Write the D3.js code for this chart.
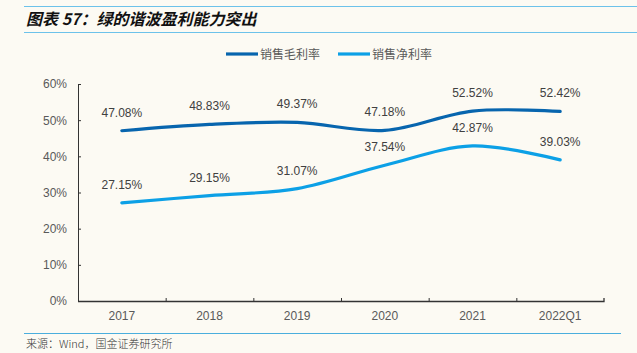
<!DOCTYPE html>
<html>
<head>
<meta charset="utf-8">
<script src="https://cdn.jsdelivr.net/npm/d3@7"></script>
<style>
  html, body { margin: 0; padding: 0; background: #fcfaf3; }
  svg { display: block; font-family: "Liberation Sans", Arial, "Noto Sans CJK SC", sans-serif; }
</style>
</head>
<body>
<svg id="chart" width="637" height="353"></svg>
<script>
var categories = ["2017", "2018", "2019", "2020", "2021", "2022Q1"];
var grossMargin = [47.08, 48.83, 49.37, 47.18, 52.52, 52.42];
var netMargin = [27.15, 29.15, 31.07, 37.54, 42.87, 39.03];
var yTicks = [0, 10, 20, 30, 40, 50, 60];
var seriesNames = ["销售毛利率", "销售净利率"];
var seriesColors = ["#0765ae", "#0ca0e6"];

var svg = d3.select("#chart");

// title with rules
svg.append("line").attr("x1", 24).attr("x2", 637).attr("y1", 6.5).attr("y2", 6.5)
    .attr("stroke", "#6cc2ea").attr("stroke-width", 1.2);
svg.append("line").attr("x1", 24).attr("x2", 637).attr("y1", 32.5).attr("y2", 32.5)
    .attr("stroke", "#6cc2ea").attr("stroke-width", 1.2);
svg.append("text").attr("x", 26).attr("y", 25)
    .attr("font-family", "'Noto Sans CJK SC', sans-serif")
    .attr("font-size", 16).attr("font-weight", "bold").attr("font-style", "italic")
    .attr("fill", "#111")
    .text("图表 57：绿的谐波盈利能力突出");

var margin = {top: 84, left: 78, right: 33, bottom: 52};
var width = 637 - margin.left - margin.right,
    height = 353 - margin.top - margin.bottom;

var x = d3.scaleBand().domain(categories).range([0, width]);
var y = d3.scaleLinear().domain([0, 60]).range([height, 0]);

var g = svg.append("g").attr("transform", "translate(" + margin.left + "," + margin.top + ")");

// y axis
var yAxis = g.append("g").call(d3.axisLeft(y).tickValues(yTicks).tickSize(-3).tickPadding(11)
    .tickFormat(function(d) { return d + "%"; }));
yAxis.attr("font-family", null);
yAxis.select(".domain").attr("stroke", "#333").attr("d", "M0.5,0V" + (height + 0.5));
yAxis.selectAll(".tick line").attr("stroke", "#333");
yAxis.selectAll(".tick text").attr("fill", "#595959").attr("font-size", 12);

// x axis
var xAxis = g.append("g").attr("transform", "translate(0," + height + ")")
    .call(d3.axisBottom(x).tickSize(0).tickPadding(10));
xAxis.attr("font-family", null);
xAxis.select(".domain").attr("stroke", "#333").attr("stroke-width", 1.3).attr("d", "M0,0.5H" + width + "V-3");
xAxis.selectAll(".tick text").attr("fill", "#595959").attr("font-size", 12);
// boundary ticks between categories
g.append("g").selectAll("line").data(categories.slice(1)).enter().append("line")
    .attr("x1", function(d) { return x(d) + 0.5; })
    .attr("x2", function(d) { return x(d) + 0.5; })
    .attr("y1", height).attr("y2", height - 3)
    .attr("stroke", "#333");

var cx = function(i) { return x(categories[i]) + x.bandwidth() / 2; };
var line = d3.line()
    .x(function(d, i) { return cx(i); })
    .y(function(d) { return y(d); })
    .curve(d3.curveCatmullRom.alpha(0.5));

[grossMargin, netMargin].forEach(function(series, s) {
    g.append("path").datum(series)
        .attr("d", line)
        .attr("fill", "none")
        .attr("stroke", seriesColors[s])
        .attr("stroke-width", 3.2)
        .attr("stroke-linecap", "round");
    g.append("g").selectAll("text").data(series).enter().append("text")
        .attr("x", function(d, i) { return cx(i); })
        .attr("y", function(d) { return y(d) - 14; })
        .attr("text-anchor", "middle")
        .attr("font-size", 12)
        .attr("fill", "#404040")
        .text(function(d) { return d.toFixed(2) + "%"; });
});

// legend
var legendX = [226, 338];
seriesNames.forEach(function(name, i) {
    svg.append("line").attr("x1", legendX[i]).attr("x2", legendX[i] + 32)
        .attr("y1", 54).attr("y2", 54)
        .attr("stroke", seriesColors[i]).attr("stroke-width", 3.2);
    svg.append("text").attr("x", legendX[i] + 34).attr("y", 58.5)
        .attr("font-family", "'Noto Sans CJK SC', sans-serif")
        .attr("font-size", 12).attr("fill", "#595959")
        .text(name);
});

// footer
svg.append("line").attr("x1", 24).attr("x2", 621).attr("y1", 333.5).attr("y2", 333.5)
    .attr("stroke", "#4aaedd").attr("stroke-width", 1.2);
svg.append("text").attr("x", 26).attr("y", 348)
    .attr("font-family", "'Noto Sans CJK SC', sans-serif")
    .attr("font-size", 11).attr("fill", "#333").attr("font-weight", 300)
    .text("来源：Wind，国金证券研究所");
</script>
</body>
</html>
